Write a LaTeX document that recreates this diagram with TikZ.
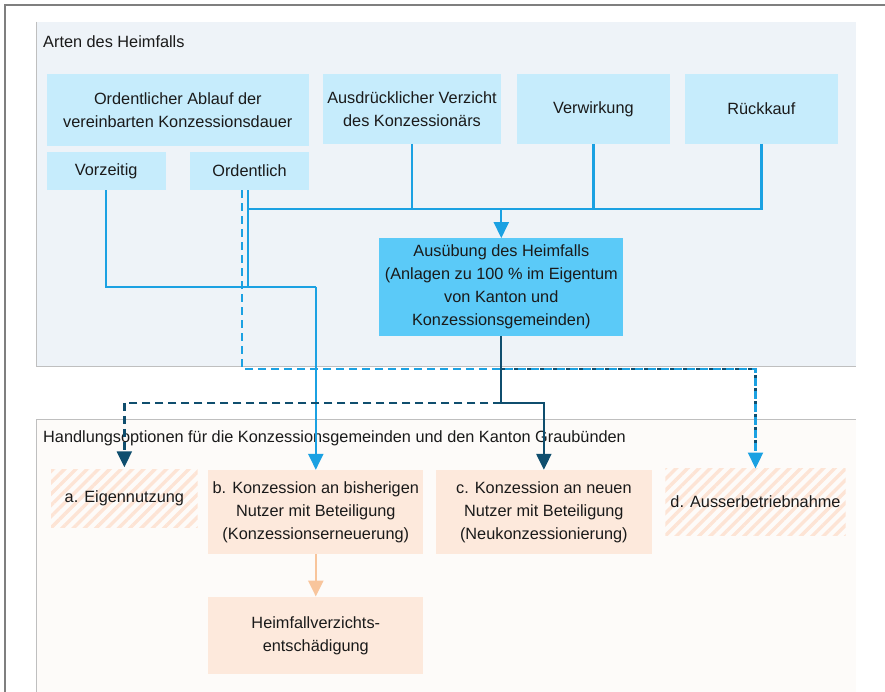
\documentclass[tikz,border=0pt]{standalone}
\usepackage{fontspec}
\setmainfont{Liberation Sans}
\usetikzlibrary{arrows.meta,patterns.meta}
\definecolor{frame}{HTML}{7F7F7F}
\definecolor{pgray}{HTML}{BFBFBF}
\definecolor{upbg}{HTML}{EEF3F8}
\definecolor{lobg}{HTML}{FDFBF9}
\definecolor{lblue}{HTML}{C6ECFC}
\definecolor{mblue}{HTML}{5BCAF8}
\definecolor{lineblue}{HTML}{1BA1E2}
\definecolor{dkblue}{HTML}{0F4E6E}
\definecolor{peach}{HTML}{FDE9DC}
\definecolor{hatch}{HTML}{FDE4D5}
\definecolor{parrow}{HTML}{F8C59C}
\definecolor{txt}{HTML}{1A1A1A}
\begin{document}
\begin{tikzpicture}[x=1pt,y=-1pt,
  box/.style={rectangle,inner sep=0pt,align=center,text=txt,
    font=\fontsize{16.3}{23}\selectfont},
  ubox/.style={box,fill=lblue},
  pbox/.style={box,fill=peach},
  hbox/.style={box,fill=white,pattern={Lines[angle=45,distance=8pt,line width=3.4pt]},pattern color=hatch},
  title/.style={anchor=west,inner sep=0pt,text=txt,font=\fontsize{16.3}{23}\selectfont},
  bl/.style={draw=lineblue,line width=2.3pt},
  dk/.style={draw=dkblue,line width=2.3pt},
  dsh/.style={dash pattern=on 8pt off 5pt},
  tip/.style={-{Triangle[width=15pt,length=16pt]}}
]
\useasboundingbox (0,0) rectangle (885,692);
\fill[white] (0,0) rectangle (885,692);
% panels
\fill[upbg] (36.5,22) rectangle (856,366);
\fill[lobg] (36.5,419) rectangle (856,692);
\draw[pgray,line width=1pt] (36.5,22) -- (36.5,366) -- (856,366);
\draw[pgray,line width=1pt] (36.5,692) -- (36.5,419) -- (856,419);
\draw[frame,line width=1.3pt] (5,692) -- (5,5) -- (885,5);
% titles
\node[title] (t1) at (43,42) {Arten des Heimfalls};
\node[title] (t2) at (43,438) {Handlungsoptionen für die Konzessionsgemeinden und den Kanton Graubünden};
% upper boxes
\node[ubox,minimum width=262.3pt,minimum height=71.7pt] (oab) at (177.85,109.85) {Ordentlicher Ablauf der\\vereinbarten Konzessionsdauer};
\node[ubox,minimum width=119pt,minimum height=38.3pt] (vor) at (106.2,170.85) {Vorzeitig};
\node[ubox,minimum width=119pt,minimum height=38.3pt] (ord) at (249.5,170.85) {Ordentlich};
\node[ubox,minimum width=177.4pt,minimum height=69.7pt] (ausd) at (412,108.85) {Ausdrücklicher Verzicht\\des Konzessionärs};
\node[ubox,minimum width=153.3pt,minimum height=69.7pt] (verw) at (593.35,108.85) {Verwirkung};
\node[ubox,minimum width=152.7pt,minimum height=69.7pt] (rueck) at (761.35,108.85) {Rückkauf};
\node[box,fill=mblue,minimum width=244pt,minimum height=97.7pt] (aus) at (501.3,287.15) {Ausübung des Heimfalls\\(Anlagen zu 100 \% im Eigentum\\von Kanton und\\Konzessionsgemeinden)};
% lower boxes
\node[hbox,minimum width=146.7pt,minimum height=58.7pt] (a) at (124.35,498.35) {a. Eigennutzung};
\node[pbox,minimum width=215pt,minimum height=84pt] (b) at (315.8,512) {b. Konzession an bisherigen\\Nutzer mit Beteiligung\\(Konzessionserneuerung)};
\node[pbox,minimum width=215.7pt,minimum height=84pt] (c) at (543.85,512) {c. Konzession an neuen\\Nutzer mit Beteiligung\\(Neukonzessionierung)};
\node[hbox,minimum width=180.4pt,minimum height=66.3pt] (d) at (755.5,501.85) {d. Ausserbetriebnahme};
\node[pbox,minimum width=215pt,minimum height=77.6pt] (h) at (315.8,635.5) {Heimfallverzichts-\\entschädigung};
% junction coordinates
\coordinate (m) at (501.3,209);
\coordinate (j1) at (315.8,286.7);
\coordinate (k) at (501.3,402.7);
\coordinate (dc) at (755.5,369);
% connectors: merge to Ausuebung
\draw[bl] ([xshift=-1.2pt]ord.south |- m) -- (m);
\draw[bl] (ausd.south) |- (m);
\draw[bl] (verw.south) |- (m);
\draw[bl] (rueck.south) |- (m);
\draw[bl,tip] (m) -- (aus.north);
% Vorzeitig / Ordentlich to b
\draw[bl] (vor.south) |- (j1);
\draw[bl] ([xshift=-1.2pt]ord.south) |- (j1);
\draw[bl,tip] (j1) -- (b.north);
% dark from Ausuebung
\draw[dk,tip] (aus.south) -- (k) -| (c.north);
\draw[dk,dsh,tip] (k) -| (a.north);
\draw[dk,dsh] (aus.south |- dc) -- (dc) -- ([yshift=10pt]d.north);
% dashed from Ordentlich to d
\draw[bl,dsh,tip] ([xshift=-7.8pt]ord.south) |- (dc) -- (d.north);
% b to Heimfallverzicht
\draw[draw=parrow,line width=2.3pt,tip] (b.south) -- (h.north);
\end{tikzpicture}
\end{document}
